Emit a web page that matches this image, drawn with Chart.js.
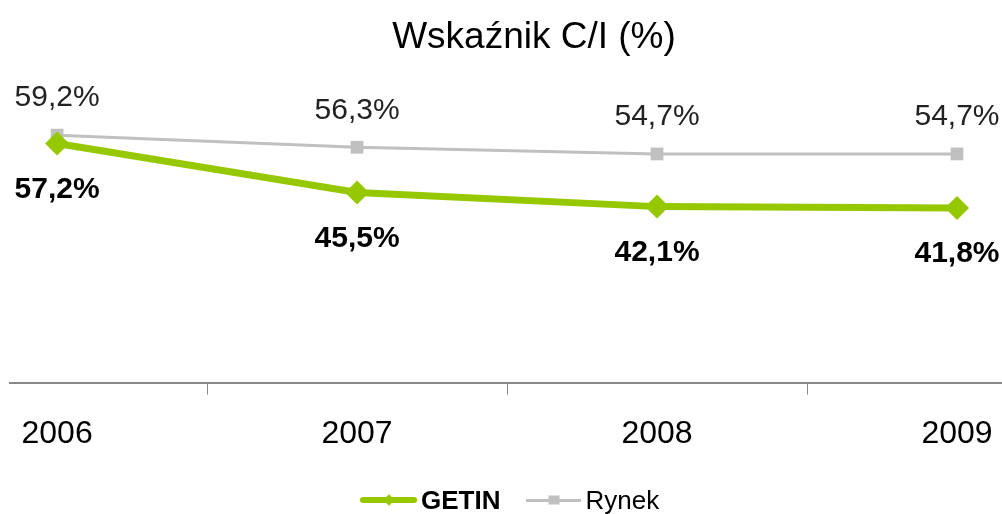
<!DOCTYPE html>
<html>
<head>
<meta charset="utf-8">
<title>Wskaźnik C/I</title>
<script src="https://cdn.jsdelivr.net/npm/chart.js@4.4.1/dist/chart.umd.min.js"></script>
<style>
    html, body { margin: 0; padding: 0; background: #fff; }
    #wrap { position: relative; width: 1002px; height: 514px; overflow: hidden; }
    #ciChart { display: block; }
    #title {
        position: absolute; left: 534px; top: 17px; transform: translateX(-50%);
        white-space: nowrap; line-height: 37px;
        font-family: 'Liberation Sans', Arial, sans-serif; font-size: 37px; color: #000;
    }
    #legend {
        position: absolute; left: 360px; top: 486px; height: 28px;
        display: flex; align-items: center;
        font-family: 'Liberation Sans', Arial, sans-serif; font-size: 26px; color: #000;
    }
    #legend .item { display: flex; align-items: center; }
    #legend .mk { position: relative; display: inline-block; width: 57px; margin-right: 4px; }
    #legend .mk i { position: absolute; left: 50%; top: 50%; }
    #legend .getin { height: 6px; border-radius: 3px; background: #96C800; }
    #legend .getin i { width: 8px; height: 8px; background: #96C800; transform: translate(-50%, -50%) rotate(45deg); }
    #legend .rynek { height: 3px; background: #C0C0C0; margin-left: 26px; width: 55px; }
    #legend .rynek i { width: 11px; height: 9px; background: #C0C0C0; transform: translate(-50%, -50%); }
</style>
</head>
<body>
<div id="wrap">
    <canvas id="ciChart" width="1002" height="514"></canvas>
    <div id="title">Wskaźnik C/I (%)</div>
    <div id="legend">
        <span class="item"><span class="mk getin"><i></i></span><b>GETIN</b></span>
        <span class="item"><span class="mk rynek"><i></i></span>Rynek</span>
    </div>
</div>
<script>
// dane z wykresu
const years = ['2006', '2007', '2008', '2009'];
const getinValues = [57.2, 45.5, 42.1, 41.8];
const rynekValues = [59.2, 56.3, 54.7, 54.7];

const GREEN = '#96C800';
const GRAY = '#C0C0C0';
const FONT = "'Liberation Sans', Arial, sans-serif";

function fmt(v) {
    return v.toFixed(1).replace('.', ',') + '%';
}

// etykiety wartości przy punktach
const valueLabels = {
    id: 'valueLabels',
    afterDatasetsDraw(chart) {
        const ctx = chart.ctx;
        chart.data.datasets.forEach((ds, i) => {
            const meta = chart.getDatasetMeta(i);
            const opt = ds.valueLabel;
            meta.data.forEach((pt, j) => {
                ctx.save();
                ctx.font = opt.font;
                ctx.fillStyle = opt.color;
                ctx.textAlign = 'center';
                ctx.textBaseline = 'middle';
                ctx.fillText(fmt(ds.data[j].y), pt.x, pt.y + opt.offset);
                ctx.restore();
            });
        });
    }
};

const canvas = document.getElementById('ciChart');
new Chart(canvas, {
    type: 'line',
    data: {
        datasets: [{
            label: 'GETIN',
            data: getinValues.map((v, i) => ({ x: i, y: v })),
            borderColor: GREEN,
            backgroundColor: GREEN,
            borderWidth: 7,
            pointStyle: 'rectRot',
            pointRadius: 12,
            pointBorderWidth: 0,
            tension: 0,
            clip: false,
            valueLabel: { font: 'bold 30px ' + FONT, color: '#000', offset: 46 }
        }, {
            label: 'Rynek',
            data: rynekValues.map((v, i) => ({ x: i, y: v })),
            borderColor: GRAY,
            backgroundColor: GRAY,
            borderWidth: 3,
            pointStyle: 'rect',
            pointRadius: 9,
            pointBorderWidth: 0,
            tension: 0,
            clip: false,
            valueLabel: { font: '30px ' + FONT, color: '#222', offset: -37 }
        }]
    },
    options: {
        responsive: false,
        animation: false,
        events: [],
        layout: {
            autoPadding: false,
            padding: { left: 10, right: 0, top: 90, bottom: 41 }
        },
        scales: {
            x: {
                type: 'linear',
                min: -0.157,
                max: 3.15,
                afterBuildTicks: (scale) => {
                    scale.ticks = [0, 0.5, 1, 1.5, 2, 2.5, 3].map(v => ({ value: v }));
                },
                afterFit: (scale) => {
                    scale.paddingLeft = 0;
                    scale.paddingRight = 0;
                },
                ticks: {
                    autoSkip: false,
                    maxRotation: 0,
                    padding: 20,
                    color: '#000',
                    font: { family: FONT, size: 32 },
                    callback: (v) => Number.isInteger(v) ? years[v] : ''
                },
                grid: {
                    drawOnChartArea: false,
                    drawTicks: true,
                    tickLength: 12,
                    lineWidth: 1,
                    color: (c) => (c.tick && !Number.isInteger(c.tick.value)) ? '#888' : 'rgba(0,0,0,0)'
                },
                border: { display: true, color: '#888', width: 2 }
            },
            y: {
                display: false,
                min: 0,
                max: 70
            }
        },
        plugins: {
            legend: { display: false },
            tooltip: { enabled: false },
            title: { display: false }
        }
    },
    plugins: [valueLabels]
});
</script>
</body>
</html>
